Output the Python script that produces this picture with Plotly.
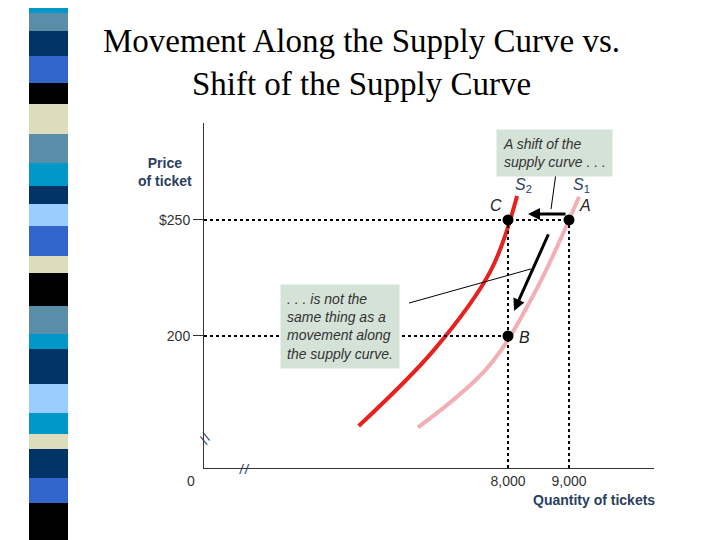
import plotly.graph_objects as go

# supply curves (quantity, price)
s2_q = [5552, 6787, 7721, 8148]
s2_p = [161.2, 194.0, 228.4, 260.3]
s1_q = [6524, 7672, 8434, 9164]
s1_p = [160.6, 186.6, 218.5, 260.0]
pt_names = ['C', 'A', 'B']
pt_q = [8000, 9000, 8000]
pt_p = [250, 250, 200]
x_ticks = [8000, 9000]
x_labels = ['8,000', '9,000']
y_ticks = [200, 250]
y_labels = ['200', '$250']
stripe_colors = ['#0098c8', '#5a8ea8', '#003466', '#3366cc', '#000000', '#ddddbb',
                 '#5a8ea8', '#0098c8', '#003466', '#99ccff', '#3366cc', '#ddddbb',
                 '#000000', '#5a8ea8', '#0098c8', '#003466', '#99ccff', '#0098c8',
                 '#ddddbb', '#003466', '#3366cc', '#000000']
stripe_edges = [0, 12, 30, 55, 82, 103, 133, 162, 185, 203, 225, 255, 272, 305,
                333, 348, 383, 412, 433, 448, 477, 502, 540]

X0, X1, Y0, Y1 = 3016, 10393, 143.1, 291.8


def px(X):
    return (X - 203) / 450


def py(Y):
    return (467 - Y) / 345


fig = go.Figure()
fig.add_trace(go.Scatter(x=s2_q, y=s2_p, mode='lines', line_shape='spline', line_smoothing=1.0,
                         line=dict(color='#e8201e', width=4)))
fig.add_trace(go.Scatter(x=s1_q, y=s1_p, mode='lines', line_shape='spline', line_smoothing=1.0,
                         line=dict(color='#f2b0b5', width=4)))
# dotted guides
for q, p in zip(pt_q, pt_p):
    fig.add_shape(type='line', x0=X0, x1=q, y0=p, y1=p, line=dict(color='black', width=2, dash='dot'))
    fig.add_shape(type='line', x0=q, x1=q, y0=Y0, y1=p, line=dict(color='black', width=2, dash='dot'))
fig.add_trace(go.Scatter(x=pt_q, y=pt_p, mode='markers', marker=dict(color='black', size=11)))
for n, q, p, dx, dy in zip(pt_names, pt_q, pt_p, [-12, 16, 16], [14, 14, -2]):
    fig.add_annotation(x=q, y=p, text='<i>' + n + '</i>', showarrow=False, xshift=dx, yshift=dy,
                       font=dict(family='Arial', size=16, color='#222'))
fig.add_annotation(x=8250, y=265, text='<i>S</i><sub>2</sub>', showarrow=False, font=dict(family='Arial', size=16))
fig.add_annotation(x=9200, y=265, text='<i>S</i><sub>1</sub>', showarrow=False, font=dict(family='Arial', size=16))
# shift arrow
fig.add_annotation(x=8328, y=252.6, ax=8967, ay=252.6, xref='x', yref='y', axref='x', ayref='y',
                   text='', showarrow=True, arrowhead=2, arrowwidth=3, arrowsize=0.8, arrowcolor='black')
# movement arrow
fig.add_annotation(x=8098, y=210.8, ax=8672, ay=244.4, xref='x', yref='y', axref='x', ayref='y',
                   text='', showarrow=True, arrowhead=2, arrowwidth=3, arrowsize=0.8, arrowcolor='black')
box = dict(showarrow=False, bgcolor='#d5e2d8', borderpad=6, align='left', xanchor='center', yanchor='middle',
           font=dict(family='Arial', size=14, color='#333'))
fig.add_shape(type='line', x0=8787, y0=270.3, x1=8705, y1=254.7, line=dict(color='black', width=1))
fig.add_shape(type='line', x0=6377, y0=214.2, x1=8377, y1=228.9, line=dict(color='black', width=1))
fig.add_annotation(x=8754, y=278.9, text='<i>A shift of the<br>supply curve . . .</i>', **box)
fig.add_annotation(x=5246, y=204.3, text='<i>. . . is not the<br>same thing as a<br>movement along<br>the supply curve.</i>', **box)
# axis break marks and origin
fig.add_annotation(x=X0, y=156, text='//', showarrow=False, textangle=-60, font=dict(size=14))
fig.add_annotation(x=3672, y=Y0, text='//', showarrow=False, font=dict(size=14))
fig.add_annotation(x=px(190), y=py(480), xref='paper', yref='paper', text='0', showarrow=False,
                   xanchor='center', yanchor='middle', font=dict(family='Arial', size=14, color='#333'))
fig.add_annotation(x=px(193), y=py(171), xref='paper', yref='paper', text='<b>Price<br>of ticket</b>',
                   showarrow=False, xanchor='right', yanchor='middle', font=dict(family='Arial', size=14))
fig.add_annotation(x=px(656), y=py(499), xref='paper', yref='paper', text='<b>Quantity of tickets</b>',
                   showarrow=False, xanchor='right', yanchor='middle', font=dict(family='Arial', size=14))
# title
fig.add_annotation(x=px(360), y=py(62), xref='paper', yref='paper', showarrow=False,
                   xanchor='center', yanchor='middle',
                   text='Movement Along the Supply Curve vs.<br>Shift of the Supply Curve',
                   font=dict(family='Liberation Serif', size=33, color='black'))
# decorative stripe
for c, a, b in zip(stripe_colors, stripe_edges[:-1], stripe_edges[1:]):
    fig.add_shape(type='rect', xref='paper', yref='paper', x0=px(28), x1=px(67),
                  y0=py(b), y1=py(a), fillcolor=c, line=dict(width=0), layer='below')

fig.update_xaxes(range=[X0, X1], showgrid=False, zeroline=False, showline=True, linecolor='#333',
                 tickvals=x_ticks, ticktext=x_labels, ticks='', tickfont=dict(family='Arial', size=14, color='#333'))
fig.update_yaxes(range=[Y0, Y1], showgrid=False, zeroline=False, showline=True, linecolor='#333',
                 tickvals=y_ticks, ticktext=y_labels, ticks='outside', ticklen=10, tickcolor='#333',
                 tickfont=dict(family='Arial', size=14, color='#333'))
fig.update_layout(width=720, height=540, margin=dict(l=196, r=74, t=115, b=80), showlegend=False,
                  plot_bgcolor='white', paper_bgcolor='white')
fig.write_html("out.html")
